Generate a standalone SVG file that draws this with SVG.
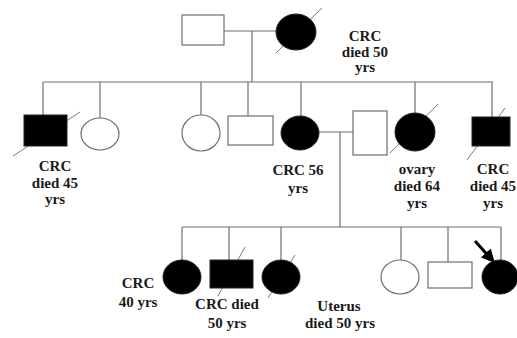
<svg xmlns="http://www.w3.org/2000/svg" width="517" height="338" viewBox="0 0 517 338">
<defs>
<style>
.ln{stroke:#6e6e6e;stroke-width:1.2;fill:none}
.open{fill:#ffffff;stroke:#6e6e6e;stroke-width:1.2}
.aff{fill:#000000;stroke:#222;stroke-width:1}
.dec{stroke:#7a7a7a;stroke-width:1;fill:none}
.lbl{font-family:"Liberation Serif","Times New Roman",serif;font-weight:bold;font-size:15px;fill:#1a1a1a;text-anchor:middle}
</style>
<marker id="ah" viewBox="0 0 10 10" refX="8" refY="5" markerWidth="4.5" markerHeight="4.5" orient="auto">
<path d="M0,0 L10,5 L0,10 z" fill="#000"/>
</marker>
</defs>
<rect width="517" height="338" fill="#ffffff"/>
<g id="connectors">
<line class="ln" x1="224" y1="31" x2="276" y2="31"/>
<line class="ln" x1="252" y1="31" x2="252" y2="82"/>
<line class="ln" x1="43" y1="82" x2="493" y2="82"/>
<line class="ln" x1="43" y1="82" x2="43" y2="115"/>
<line class="ln" x1="100" y1="82" x2="100" y2="118"/>
<line class="ln" x1="201" y1="82" x2="201" y2="115"/>
<line class="ln" x1="248" y1="82" x2="248" y2="116"/>
<line class="ln" x1="301" y1="82" x2="301" y2="116"/>
<line class="ln" x1="415" y1="82" x2="415" y2="113"/>
<line class="ln" x1="492" y1="82" x2="492" y2="117"/>
<line class="ln" x1="319" y1="132" x2="353" y2="132"/>
<line class="ln" x1="340" y1="132" x2="340" y2="227"/>
<line class="ln" x1="182" y1="227" x2="501" y2="227"/>
<line class="ln" x1="182" y1="227" x2="182" y2="260"/>
<line class="ln" x1="229" y1="227" x2="229" y2="260"/>
<line class="ln" x1="281" y1="227" x2="281" y2="260"/>
<line class="ln" x1="401" y1="227" x2="401" y2="260"/>
<line class="ln" x1="448" y1="227" x2="448" y2="262"/>
<line class="ln" x1="501" y1="227" x2="501" y2="260"/>
<line x1="475" y1="241" x2="493" y2="261" stroke="#000" stroke-width="3" marker-end="url(#ah)"/>
</g>
<g id="I-1"><rect class="open" x="182" y="15" width="42" height="30"/></g>
<g id="I-2"><line class="dec" x1="276" y1="53" x2="322" y2="8"/><ellipse class="aff" cx="296" cy="32" rx="20" ry="18"/>
<text class="lbl" x="365" y="41">CRC</text><text class="lbl" x="365" y="57">died 50</text><text class="lbl" x="365" y="72">yrs</text></g>
<g id="II-1"><line class="dec" x1="13" y1="156" x2="80" y2="112"/><rect class="aff" x="24" y="115" width="43" height="31"/>
<text class="lbl" x="55" y="171">CRC</text><text class="lbl" x="55" y="188">died 45</text><text class="lbl" x="55" y="204">yrs</text></g>
<g id="II-2"><ellipse class="open" cx="100" cy="134" rx="19" ry="16"/></g>
<g id="II-3"><ellipse class="open" cx="201" cy="133" rx="19" ry="18"/></g>
<g id="II-4"><rect class="open" x="228" y="116" width="45" height="29"/></g>
<g id="II-5"><ellipse class="aff" cx="300" cy="133" rx="19" ry="17"/>
<text class="lbl" x="298" y="175">CRC 56</text><text class="lbl" x="298" y="193">yrs</text></g>
<g id="II-6"><rect class="open" x="353" y="111" width="34" height="44"/></g>
<g id="II-7"><line class="dec" x1="390" y1="153" x2="438" y2="104"/><ellipse class="aff" cx="415" cy="132" rx="20" ry="19"/>
<text class="lbl" x="417" y="174">ovary</text><text class="lbl" x="417" y="191">died 64</text><text class="lbl" x="417" y="208">yrs</text></g>
<g id="II-8"><line class="dec" x1="467" y1="160" x2="505" y2="108"/><rect class="aff" x="472" y="117" width="38" height="29"/>
<text class="lbl" x="493" y="174">CRC</text><text class="lbl" x="493" y="191">died 45</text><text class="lbl" x="493" y="208">yrs</text></g>
<g id="III-1"><ellipse class="aff" cx="182" cy="277" rx="19" ry="17"/>
<text class="lbl" x="138" y="288">CRC</text><text class="lbl" x="138" y="307">40 yrs</text></g>
<g id="III-2"><line class="dec" x1="218" y1="296" x2="245" y2="247"/><rect class="aff" x="210" y="260" width="43" height="28"/>
<text class="lbl" x="227" y="309">CRC died</text><text class="lbl" x="227" y="328">50 yrs</text></g>
<g id="III-3"><line class="dec" x1="268" y1="298" x2="295" y2="255"/><ellipse class="aff" cx="281" cy="277" rx="19" ry="17"/>
<text class="lbl" x="339" y="311">Uterus</text><text class="lbl" x="340" y="328">died 50 yrs</text></g>
<g id="III-4"><ellipse class="open" cx="400" cy="277" rx="19" ry="17"/></g>
<g id="III-5"><rect class="open" x="428" y="262" width="44" height="26"/></g>
<g id="III-6"><ellipse class="aff" cx="500" cy="277" rx="18" ry="17"/></g>
</svg>
